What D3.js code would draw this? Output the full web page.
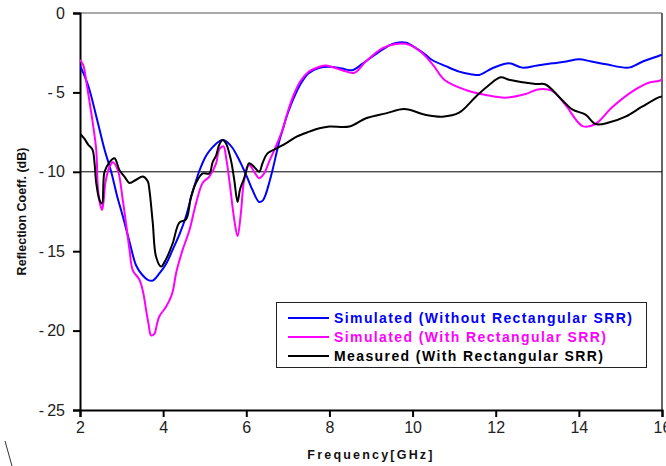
<!DOCTYPE html>
<html>
<head>
<meta charset="utf-8">
<script src="https://cdn.jsdelivr.net/npm/d3@7"></script>
<style>
body { margin: 0; background: #fff; }
</style>
</head>
<body>
<svg id="chart" width="666" height="466"></svg>
<script>
// series data (frequency in GHz, reflection coeff in dB)
var freqWithout = [2.0,2.2,2.4,2.59,2.75,2.9,3.03,3.2,3.35,3.5,3.63,3.75,3.91,4.07,4.23,4.4,4.55,4.7,4.87,5.03,5.19,5.35,5.45,5.55,5.67,5.8,5.91,6.03,6.15,6.31,6.4,6.47,6.55,6.63,6.72,6.8,6.87,7.0,7.15,7.3,7.5,7.76,8.0,8.3,8.55,8.79,9.0,9.2,9.4,9.6,9.85,10.09,10.3,10.47,10.8,11.12,11.4,11.6,11.92,12.32,12.64,13.0,13.36,13.7,14.0,14.3,14.66,15.2,15.5,15.93,16.0];
var s11Without  = [-3.3,-4.6,-6.6,-8.6,-10.0,-11.6,-12.8,-14.5,-15.9,-16.5,-16.8,-16.85,-16.4,-15.8,-14.9,-13.9,-12.8,-11.35,-9.95,-9.0,-8.45,-8.08,-8.0,-8.15,-8.5,-9.1,-9.7,-10.4,-11.15,-11.9,-11.8,-11.4,-10.7,-9.9,-8.9,-8.0,-7.4,-6.3,-5.3,-4.5,-3.8,-3.45,-3.38,-3.5,-3.6,-3.2,-2.8,-2.43,-2.1,-1.88,-1.87,-2.23,-2.6,-2.96,-3.35,-3.69,-3.85,-3.9,-3.48,-3.17,-3.44,-3.3,-3.17,-3.05,-2.92,-3.05,-3.23,-3.44,-3.1,-2.69,-2.62];

var freqWith = [2.0,2.08,2.15,2.23,2.3,2.39,2.43,2.48,2.53,2.57,2.61,2.71,2.79,2.91,3.03,3.12,3.19,3.27,3.43,3.52,3.59,3.65,3.71,3.79,3.85,3.91,4.07,4.2,4.25,4.31,4.39,4.47,4.63,4.79,4.95,5.11,5.27,5.35,5.45,5.52,5.6,5.71,5.79,5.87,5.95,6.07,6.19,6.31,6.43,6.55,6.71,6.87,7.0,7.15,7.3,7.5,7.76,7.92,8.3,8.6,8.87,9.27,9.6,9.92,10.23,10.5,10.77,11.28,11.76,12.24,12.72,13.04,13.36,13.68,14.09,14.4,14.8,15.28,15.68,15.92,16.0];
var s11With  = [-2.95,-3.3,-4.3,-5.6,-6.8,-8.6,-11.0,-12.0,-12.4,-11.8,-10.7,-9.7,-9.4,-9.9,-11.8,-13.5,-14.9,-16.2,-16.8,-17.6,-18.7,-19.6,-20.3,-20.2,-19.6,-19.1,-18.5,-17.8,-17.3,-16.4,-15.6,-14.9,-13.7,-12.0,-10.7,-10.3,-9.5,-8.6,-8.4,-9.2,-10.7,-13.0,-14.05,-12.6,-10.5,-9.57,-10.0,-10.4,-10.1,-9.36,-8.42,-7.37,-6.2,-5.1,-4.3,-3.7,-3.38,-3.3,-3.6,-3.76,-3.07,-2.23,-1.95,-2.0,-2.52,-3.3,-4.22,-4.85,-5.16,-5.33,-5.1,-4.8,-4.9,-5.8,-7.12,-6.99,-5.94,-4.95,-4.39,-4.28,-4.2];

var freqMeasured = [2.0,2.1,2.2,2.3,2.35,2.39,2.47,2.53,2.59,2.71,2.83,2.95,3.07,3.19,3.35,3.51,3.63,3.67,3.75,3.83,3.95,4.07,4.23,4.39,4.55,4.67,4.79,4.95,5.11,5.19,5.27,5.35,5.43,5.51,5.63,5.71,5.79,5.85,5.95,6.07,6.19,6.31,6.39,6.51,6.75,6.96,7.2,7.52,7.76,8.0,8.48,8.88,9.36,9.8,10.32,10.72,11.12,11.52,11.84,12.12,12.32,12.96,13.2,13.52,13.84,14.16,14.4,14.72,15.12,15.52,15.92,16.0];
var s11Measured  = [-7.6,-7.9,-8.3,-8.6,-9.46,-10.7,-11.78,-12.0,-10.0,-9.4,-9.15,-9.9,-10.3,-10.7,-10.5,-10.3,-10.6,-11.15,-13.2,-15.35,-15.97,-15.5,-14.5,-13.2,-13.0,-11.57,-10.7,-10.1,-10.1,-9.4,-9.0,-8.3,-8.0,-8.2,-9.26,-10.5,-11.9,-11.1,-10.4,-9.46,-9.7,-10.0,-9.46,-8.84,-8.5,-8.2,-7.8,-7.47,-7.26,-7.15,-7.15,-6.63,-6.32,-6.05,-6.42,-6.53,-6.28,-5.27,-4.53,-4.05,-4.2,-4.47,-4.5,-5.27,-6.07,-6.4,-6.99,-6.9,-6.53,-5.9,-5.31,-5.25];

var seriesNames = ['Simulated (Without Rectangular SRR)', 'Simulated (With Rectangular SRR)', 'Measured (With Rectangular SRR)'];
var seriesColors = ['#0000ff', '#ff00ff', '#000000'];
var xTicks = [2, 4, 6, 8, 10, 12, 14, 16];
var yTicks = [0, -5, -10, -15, -20, -25];
var refLevel = -10;

var plotLeft = 80, plotRight = 662, plotTop = 13, plotBottom = 410;

var svg = d3.select('#chart');

var x = d3.scaleLinear().domain([2, 16]).range([plotLeft, plotRight]);
var y = d3.scaleLinear().domain([-25, 0]).range([plotBottom, plotTop]);

// frame (top and right are grey, as in the reference)
svg.append('line')
	.attr('x1', plotLeft).attr('x2', plotRight)
	.attr('y1', plotTop).attr('y2', plotTop)
	.attr('stroke', '#555').attr('stroke-width', 1);
svg.append('line')
	.attr('x1', plotRight).attr('x2', plotRight)
	.attr('y1', plotTop).attr('y2', plotBottom)
	.attr('stroke', '#666').attr('stroke-width', 2);

// reference line at -10 dB
svg.append('line')
	.attr('x1', plotLeft).attr('x2', plotRight)
	.attr('y1', y(refLevel)).attr('y2', y(refLevel))
	.attr('stroke', '#000').attr('stroke-width', 1);

var tickFont = '"Liberation Sans Narrow", "Liberation Sans", Arial, sans-serif';

var yAxis = svg.append('g')
	.attr('transform', `translate(${plotLeft},0)`)
	.call(d3.axisLeft(y).tickValues(yTicks).tickSize(7).tickPadding(8)
		.tickFormat(d => d < 0 ? '-\u2009' + Math.abs(d) : d));
var xAxis = svg.append('g')
	.attr('transform', `translate(0,${plotBottom})`)
	.call(d3.axisBottom(x).tickValues(xTicks).tickSize(7).tickPadding(5));

[xAxis, yAxis].forEach(function(ax){
	ax.select('.domain').attr('stroke', '#000').attr('stroke-width', 2);
	ax.selectAll('.tick line').attr('stroke', '#000').attr('stroke-width', 2);
	ax.selectAll('.tick text')
		.attr('fill', '#222')
		.style('font-family', tickFont)
		.style('font-size', '16px');
});

// curves
var allSeries = [
	{f: freqWithout, v: s11Without},
	{f: freqWith, v: s11With},
	{f: freqMeasured, v: s11Measured}
];
var line = d3.line()
	.x(d => x(d[0]))
	.y(d => y(d[1]))
	.curve(d3.curveCatmullRom.alpha(0.5));

svg.append('clipPath').attr('id', 'plotclip')
	.append('rect')
	.attr('x', plotLeft).attr('y', plotTop)
	.attr('width', plotRight - plotLeft).attr('height', plotBottom - plotTop);

var curves = svg.append('g').attr('clip-path', 'url(#plotclip)');
allSeries.forEach(function(s, i){
	curves.append('path')
		.datum(d3.zip(s.f, s.v))
		.attr('fill', 'none')
		.attr('stroke', seriesColors[i])
		.attr('stroke-width', 2)
		.attr('stroke-linejoin', 'round')
		.attr('d', line);
});

// axis titles
svg.append('text')
	.attr('x', (plotLeft + plotRight) / 2)
	.attr('y', 459)
	.attr('text-anchor', 'middle')
	.style('font-family', '"Liberation Sans", Arial, sans-serif')
	.style('font-weight', 'bold')
	.style('font-size', '12.5px')
	.style('letter-spacing', '2.2px')
	.attr('fill', '#111')
	.text('Frequency[GHz]');

svg.append('text')
	.attr('transform', `translate(26,${(plotTop + plotBottom) / 2}) rotate(-90)`)
	.attr('text-anchor', 'middle')
	.style('font-family', '"Liberation Sans", Arial, sans-serif')
	.style('font-weight', 'bold')
	.style('font-size', '12.5px')
	.attr('fill', '#111')
	.text('Reflection Coeff. (dB)');

// legend
var legend = svg.append('g').attr('transform', 'translate(276,302)');
legend.append('rect')
	.attr('x', 0.5).attr('y', 0.5)
	.attr('width', 370).attr('height', 65)
	.attr('fill', '#fff')
	.attr('stroke', '#222').attr('stroke-width', 1);
seriesNames.forEach(function(name, i){
	var ly = 16 + i * 19;
	legend.append('line')
		.attr('x1', 12).attr('x2', 53)
		.attr('y1', ly).attr('y2', ly)
		.attr('stroke', seriesColors[i]).attr('stroke-width', 2);
	legend.append('text')
		.attr('x', 58).attr('y', ly)
		.attr('dy', '0.36em')
		.attr('fill', seriesColors[i])
		.style('font-family', '"Liberation Sans", Arial, sans-serif')
		.style('font-weight', 'bold')
		.style('font-size', '14px')
		.style('letter-spacing', '1.4px')
		.text(name);
});

// stray mark at the bottom left of the scanned figure
svg.append('line')
	.attr('x1', 5).attr('y1', 441)
	.attr('x2', 12).attr('y2', 466)
	.attr('stroke', '#333').attr('stroke-width', 1);
</script>
</body>
</html>
